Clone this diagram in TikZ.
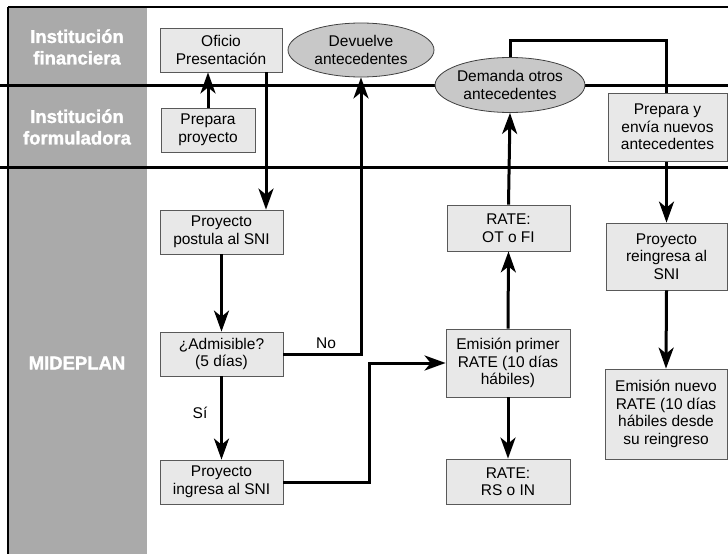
\documentclass[tikz,border=0pt]{standalone}
\usepackage{fontspec}
\setmainfont{Liberation Sans}
\newfontfamily\lanefam{Liberation Sans}[BoldFeatures={FakeBold=1.5}]
\usetikzlibrary{arrows.meta,shapes.geometric}
\definecolor{lanegray}{HTML}{AAAAAA}
\definecolor{boxfill}{HTML}{E8E8E8}
\definecolor{ovalfill}{HTML}{C8C8C8}
\newcommand\bxfont{\fontsize{15.5}{17.5}\selectfont}
\newcommand\lnfont{\lanefam\bfseries\fontsize{18.5}{21.5}\selectfont}
\tikzset{
  box/.style={draw=black!65, line width=0.8pt, fill=boxfill, inner sep=0pt,
    align=center, font=\bxfont},
  oval/.style={ellipse, draw=black!75, line width=0.8pt, fill=ovalfill, inner sep=0pt,
    align=center, font=\bxfont},
  lanelabel/.style={text=white, align=center, font=\lnfont},
  lbl/.style={font=\bxfont, inner sep=0pt},
  conn/.style={line width=3pt, line join=miter,
    -{Stealth[length=21pt,width=15pt,inset=6pt]}},
  lanesep/.style={line width=3pt},
}
\begin{document}
\begin{tikzpicture}[x=1pt,y=-1pt]
\useasboundingbox (0,0) rectangle (728,554);
% lane column
\fill[lanegray] (8,7) rectangle (147,554);
\draw[line width=2pt] (8,7) -- (728,7);
\draw[line width=2pt] (8,7) -- (8,554);
\draw[lanesep] (0,85) -- (728,85);
\draw[lanesep] (0,167) -- (728,167);
\node[lanelabel] (l1) at (77,47) {Institución\\financiera};
\node[lanelabel] (l2) at (77,127) {Institución\\formuladora};
\node[lanelabel] (l3) at (77,363) {MIDEPLAN};
% nodes
\node[box, minimum width=122pt, minimum height=44pt] (oficio) at (221,50) {Oficio\\Presentación};
\node[box, minimum width=94pt, minimum height=44pt] (prepara) at (208,130) {Prepara\\proyecto};
\node[oval, minimum width=146pt, minimum height=54pt] (devuelve) at (361,50) {Devuelve\\antecedentes};
\node[oval, minimum width=146pt, minimum height=55pt] (demanda) at (510,85) {Demanda otros\\antecedentes};
\node[box, minimum width=123pt, minimum height=44pt] (postula) at (221.5,232) {Proyecto\\postula al SNI};
\node[box, minimum width=123pt, minimum height=44pt] (admisible) at (221.5,354) {¿Admisible?\\(5 días)};
\node[box, minimum width=123pt, minimum height=44pt] (ingresa) at (221.5,482) {Proyecto\\ingresa al SNI};
\node[box, minimum width=123pt, minimum height=46pt] (otfi) at (508.5,228) {RATE:\\OT o FI};
\node[box, minimum width=124pt, minimum height=68pt] (primer) at (508,363) {Emisión primer\\RATE (10 días\\hábiles)};
\node[box, minimum width=124pt, minimum height=45pt] (rsin) at (508,481.5) {RATE:\\RS o IN};
\node[box, minimum width=121pt, minimum height=67pt] (reingresa) at (666.5,256.5) {Proyecto\\reingresa al\\SNI};
\node[box, minimum width=122pt, minimum height=90pt] (nuevo) at (666,414) {Emisión nuevo\\RATE (10 días\\hábiles desde\\su reingreso};
% connectors
\coordinate (c1) at (266,0);
\draw[conn] (prepara.north) -- (prepara.north |- oficio.south);
\draw[conn] (oficio.south -| c1) -- (postula.north -| c1);
\draw[conn] (postula.south) -- (admisible.north);
\draw[conn] (admisible.east) -- (devuelve.south |- admisible.east) -- (devuelve.south);
\node[lbl] (no) at (326,343) {No};
\draw[conn] (admisible.south) -- (ingresa.north);
\node[lbl] (si) at (200,413) {Sí};
\draw[conn] (ingresa.east) -- ++(86,0) |- (primer.west);
\draw[conn] (primer.south) -- (rsin.north);
\draw[conn] (primer.north) -- (otfi.south);
\draw[conn] (otfi.north) -- (demanda.south);
\draw[conn] (demanda.north) -- ++(0,-17) -| (reingresa.north);
\draw[conn] (reingresa.south) -- (nuevo.north);
\node[box, minimum width=119pt, minimum height=68pt] (envia) at (667.5,127) {Prepara y\\envía nuevos\\antecedentes};
\end{tikzpicture}
\end{document}
